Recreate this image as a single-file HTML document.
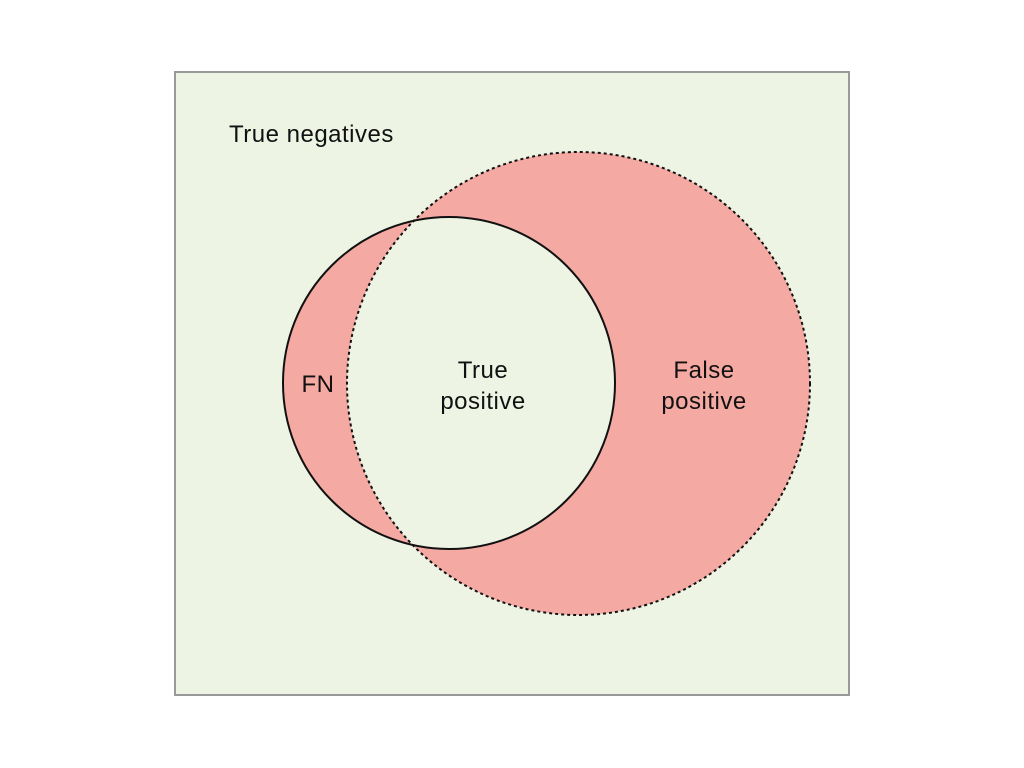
<!DOCTYPE html>
<html><head><meta charset="utf-8"><style>
html,body{margin:0;padding:0;background:#fff;width:1024px;height:768px;overflow:hidden}
svg text{font-family:"Liberation Sans",sans-serif;font-size:24px;letter-spacing:0.5px;fill:#111}
</style></head><body>
<svg width="1024" height="768">
<defs><clipPath id="bigclip"><circle cx="578.5" cy="383.5" r="231.5"/></clipPath></defs>
<rect x="175" y="72" width="674" height="623" fill="#edf4e4" stroke="#999" stroke-width="2"/>
<circle cx="578.5" cy="383.5" r="231.5" fill="#f4a9a3"/>
<circle cx="449" cy="383" r="166" fill="#f4a9a3"/>
<circle cx="449" cy="383" r="166" fill="#edf4e4" clip-path="url(#bigclip)"/>
<circle cx="578.5" cy="383.5" r="231.5" fill="none" stroke="#111" stroke-width="2" stroke-dasharray="3,3"/>
<circle cx="449" cy="383" r="166" fill="none" stroke="#111" stroke-width="2"/>
<text x="229" y="142">True negatives</text>
<text x="318" y="392" text-anchor="middle">FN</text>
<text x="483" y="378" text-anchor="middle">True</text>
<text x="483" y="409" text-anchor="middle">positive</text>
<text x="704" y="378" text-anchor="middle">False</text>
<text x="704" y="409" text-anchor="middle">positive</text>
</svg>
</body></html>
